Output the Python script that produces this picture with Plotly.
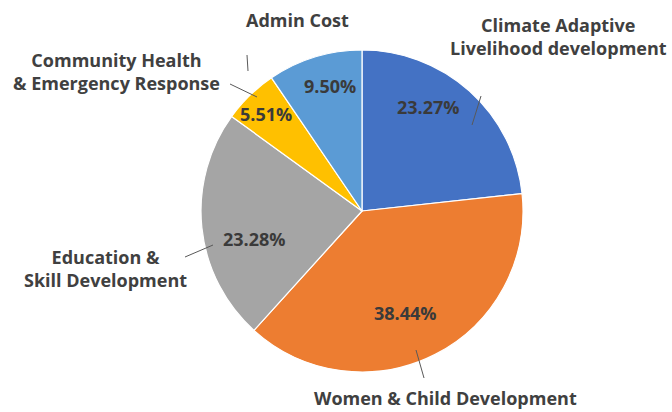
import plotly.graph_objects as go

categories = ["Climate Adaptive<br>Livelihood development",
              "Women & Child Development",
              "Education &<br>Skill Development",
              "Community Health<br>& Emergency Response",
              "Admin Cost"]
shares = [23.27, 38.44, 23.28, 5.51, 9.50]
colors = ["#4472C4", "#ED7D31", "#A5A5A5", "#FFC000", "#5B9BD5"]

W, H = 672, 412
label_pos = [(558, 37), (445, 398), (105, 268), (116, 71), (297, 20)]
pct_pos = [(428, 107), (405, 313), (254, 239), (266, 114), (330, 86)]
leaders = [((481, 96), (472, 125)),
           ((416, 350), (424, 378)),
           ((185, 257), (213, 245)),
           ((230, 84), (257, 97)),
           ((247, 55), (248, 71))]


def px(x, y):
    return x / W, 1 - y / H


cx, cy, r = 362, 211, 161
x0d, y1d = px(cx - r, cy - r)
x1d, y0d = px(cx + r, cy + r)

fig = go.Figure(go.Pie(
    labels=categories, values=shares, sort=False, direction="clockwise",
    rotation=0,
    marker=dict(colors=colors, line=dict(color="white", width=1.2)),
    textinfo="none",
    domain=dict(x=[x0d, x1d], y=[y0d, y1d]),
    showlegend=False, hoverinfo="label+percent",
))

txt_font = dict(family="Open Sans", size=18, color="#404040", weight="bold")

for name, (lx, ly) in zip(categories, label_pos):
    x, y = px(lx, ly)
    fig.add_annotation(x=x, y=y, xref="paper", yref="paper", text=name,
                       showarrow=False, align="center", xanchor="center", yanchor="middle",
                       font=txt_font)

for v, (lx, ly) in zip(shares, pct_pos):
    x, y = px(lx, ly)
    fig.add_annotation(x=x, y=y, xref="paper", yref="paper", text=f"{v:.2f}%",
                       showarrow=False, xanchor="center", yanchor="middle",
                       font=dict(family="Open Sans", size=18, color="#3a3a3a", weight="bold"))

for (a, b) in leaders:
    xa, ya = px(*a)
    xb, yb = px(*b)
    fig.add_shape(type="line", xref="paper", yref="paper", x0=xa, y0=ya, x1=xb, y1=yb,
                  line=dict(color="#595959", width=1))

fig.update_layout(width=W, height=H, margin=dict(l=0, r=0, t=0, b=0),
                  paper_bgcolor="white", plot_bgcolor="white")
fig.write_html("out.html", config={"displayModeBar": False},
               post_script="document.body.style.margin='0';")
